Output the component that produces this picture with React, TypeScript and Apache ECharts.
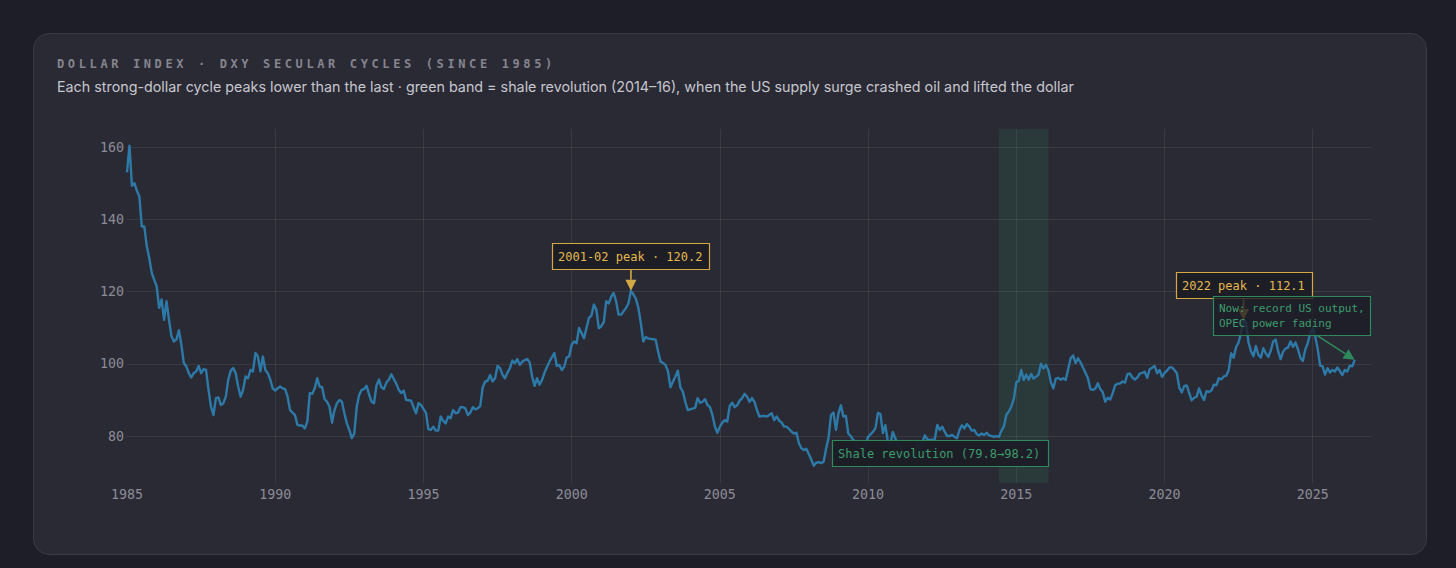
import React, { useEffect, useRef } from "react";
import * as echarts from "echarts";

const TITLE = "DOLLAR INDEX · DXY SECULAR CYCLES (SINCE 1985)";
const SUBTITLE =
  "Each strong-dollar cycle peaks lower than the last · green band = shale revolution (2014–16), when the US supply surge crashed oil and lifted the dollar";

const START_YEAR = 1985;
const xTicks = [1985, 1990, 1995, 2000, 2005, 2010, 2015, 2020, 2025];
const yTicks = [80, 100, 120, 140, 160];

// Monthly DXY readings, one array per year (Jan..Dec)
const dxy1985 = [153.0, 160.4, 149.3, 150.0, 147.9, 146.3, 138.0, 138.0, 132.6, 129.3, 125.2, 123.3];
const dxy1986 = [121.5, 115.5, 117.8, 112.2, 117.3, 112.2, 107.6, 106.2, 106.7, 109.3, 105.3, 100.2];
const dxy1987 = [99.3, 97.4, 96.2, 97.4, 97.9, 99.4, 97.4, 98.5, 98.3, 92.8, 88.1, 85.8];
const dxy1988 = [90.5, 90.7, 88.6, 89.1, 90.9, 95.6, 98.1, 98.8, 97.4, 93.7, 90.9, 92.8];
const dxy1989 = [96.5, 96.0, 98.3, 97.9, 103.0, 102.0, 97.9, 102.0, 98.3, 97.4, 95.6, 93.2];
const dxy1990 = [92.6, 93.2, 93.7, 93.2, 93.0, 90.9, 87.2, 86.5, 85.8, 83.1, 82.9, 82.9];
const dxy1991 = [82.1, 84.0, 91.9, 91.7, 93.2, 96.0, 93.7, 93.5, 90.2, 89.5, 88.1, 83.7];
const dxy1992 = [87.2, 89.1, 90.0, 89.5, 86.3, 83.5, 81.7, 79.4, 80.7, 88.1, 91.4, 92.8];
const dxy1993 = [93.0, 93.9, 91.5, 89.5, 89.1, 94.0, 95.6, 93.5, 93.0, 94.8, 95.6, 97.1];
const dxy1994 = [95.8, 94.5, 92.8, 91.9, 92.6, 90.0, 89.9, 89.8, 88.0, 86.3, 89.1, 88.6];
const dxy1995 = [87.5, 86.5, 81.9, 81.7, 82.6, 81.5, 81.5, 85.4, 84.2, 83.5, 85.4, 84.9];
const dxy1996 = [87.2, 86.3, 86.5, 88.0, 88.0, 87.6, 85.8, 86.5, 88.0, 87.4, 87.7, 88.3];
const dxy1997 = [93.5, 95.1, 95.3, 96.9, 95.1, 96.0, 99.4, 98.8, 97.0, 96.0, 97.5, 98.8];
const dxy1998 = [100.9, 100.2, 101.3, 99.7, 100.6, 101.0, 101.3, 100.4, 96.5, 93.9, 96.0, 94.2];
const dxy1999 = [95.5, 97.5, 99.1, 100.6, 101.8, 103.0, 99.4, 99.7, 98.3, 99.2, 101.8, 102.0];
const dxy2000 = [105.3, 106.2, 105.7, 109.9, 108.5, 107.1, 109.9, 112.7, 113.3, 116.4, 115.0, 109.8];
const dxy2001 = [110.4, 111.5, 117.3, 116.7, 118.5, 119.6, 117.3, 113.6, 113.6, 114.5, 115.5, 116.7];
const dxy2002 = [120.2, 119.2, 118.0, 115.5, 111.3, 106.2, 107.4, 107.0, 106.9, 106.8, 106.7, 103.4];
const dxy2003 = [100.6, 100.2, 99.7, 97.9, 93.5, 95.0, 96.5, 98.1, 93.5, 92.3, 89.5, 87.2];
const dxy2004 = [87.4, 87.6, 87.8, 90.5, 89.2, 89.5, 90.2, 88.6, 88.0, 85.8, 82.6, 80.9];
const dxy2005 = [82.6, 83.7, 84.4, 84.0, 88.3, 89.2, 88.0, 88.5, 89.8, 90.5, 91.7, 90.9];
const dxy2006 = [89.5, 90.5, 89.5, 87.2, 85.4, 85.5, 85.6, 85.4, 85.8, 86.3, 84.4, 85.4];
const dxy2007 = [84.3, 83.7, 82.6, 82.6, 82.0, 81.2, 80.7, 80.9, 78.0, 76.6, 76.1, 76.5];
const dxy2008 = [75.0, 73.5, 71.8, 72.6, 72.8, 72.5, 72.9, 76.5, 79.5, 85.8, 86.5, 81.7];
const dxy2009 = [86.2, 88.5, 85.4, 85.6, 80.7, 80.0, 78.9, 78.4, 76.7, 76.4, 75.0, 77.5];
const dxy2010 = [79.7, 80.5, 81.2, 82.2, 86.4, 86.1, 80.8, 83.0, 78.5, 77.5, 81.1, 79.4];
const dxy2011 = [77.7, 76.9, 75.9, 73.2, 74.6, 74.3, 74.1, 74.2, 78.5, 76.4, 78.4, 80.2];
const dxy2012 = [79.1, 78.9, 79.0, 79.0, 83.1, 81.7, 82.6, 81.2, 80.0, 80.0, 80.3, 79.8];
const dxy2013 = [79.4, 81.7, 83.0, 82.1, 83.3, 82.6, 81.5, 81.7, 80.5, 80.2, 80.7, 80.3];
const dxy2014 = [80.9, 80.2, 80.0, 79.8, 80.0, 79.8, 81.5, 82.7, 85.9, 86.8, 88.2, 90.3];
const dxy2015 = [94.8, 95.3, 98.3, 95.5, 97.0, 95.6, 97.2, 95.9, 96.4, 97.0, 100.0, 98.7];
const dxy2016 = [99.7, 98.2, 94.8, 93.2, 95.9, 96.1, 95.6, 96.0, 95.5, 98.5, 101.5, 102.3];
const dxy2017 = [100.2, 101.5, 100.4, 99.0, 97.5, 96.0, 93.0, 92.8, 93.1, 94.6, 93.0, 92.1];
const dxy2018 = [89.5, 90.6, 90.1, 91.8, 94.0, 94.5, 94.5, 95.1, 94.8, 97.1, 97.3, 96.2];
const dxy2019 = [95.6, 96.2, 97.3, 97.5, 97.8, 96.1, 98.5, 98.9, 99.4, 97.4, 98.3, 96.4];
const dxy2020 = [97.4, 98.1, 99.0, 99.0, 98.3, 97.4, 93.4, 92.1, 93.9, 94.0, 91.9, 89.9];
const dxy2021 = [90.6, 90.9, 93.2, 91.3, 90.0, 92.4, 92.2, 92.6, 94.2, 94.1, 96.0, 95.7];
const dxy2022 = [96.5, 96.7, 98.3, 102.9, 101.7, 104.7, 105.9, 108.7, 112.1, 111.5, 105.9, 103.5];
const dxy2023 = [102.1, 104.9, 102.5, 101.7, 104.3, 102.9, 101.9, 103.6, 106.2, 106.7, 103.5, 101.3];
const dxy2024 = [103.3, 104.2, 104.5, 106.2, 104.7, 105.9, 104.1, 101.7, 100.8, 104.0, 105.7, 108.5];
const dxy2025 = [109.8, 107.6, 104.2, 99.5, 99.3, 97.0, 98.8, 97.6, 98.3, 97.9, 99.0, 98.0];
const dxy2026 = [96.9, 98.3, 97.9, 99.5, 99.3, 101.1];

const dxyMonthly = [
  dxy1985, dxy1986, dxy1987, dxy1988, dxy1989, dxy1990, dxy1991, dxy1992, dxy1993, dxy1994,
  dxy1995, dxy1996, dxy1997, dxy1998, dxy1999, dxy2000, dxy2001, dxy2002, dxy2003, dxy2004,
  dxy2005, dxy2006, dxy2007, dxy2008, dxy2009, dxy2010, dxy2011, dxy2012, dxy2013, dxy2014,
  dxy2015, dxy2016, dxy2017, dxy2018, dxy2019, dxy2020, dxy2021, dxy2022, dxy2023, dxy2024,
  dxy2025, dxy2026,
].flat();

// Shale revolution band: Jun 2014 .. Feb 2016
const shaleStart = { year: 2014, month: 5 };
const shaleEnd = { year: 2016, month: 1 };
const shaleLabel = "Shale revolution (79.8→98.2)";

const peak2002 = { year: 2002, month: 0, label: "2001-02 peak · 120.2" };
const peak2022 = { year: 2022, month: 8, label: "2022 peak · 112.1" };
const nowLabel = "Now: record US output,\nOPEC power fading";

const toT = (year: number, month: number) => year + month / 12;
const idxOf = (year: number, month: number) => (year - START_YEAR) * 12 + month;

const MONO = "'DejaVu Sans Mono', monospace";
const GOLD = "#d4a843";
const GOLD_TEXT = "#e3b94e";
const GREEN = "#2e8a5c";
const GREEN_TEXT = "#3c9c6c";
const LINE = "#2d7aa8";
const AXIS_TEXT = "#8c8c96";
const GRID = "rgba(255,255,255,0.08)";

export default function App() {
  const ref = useRef<HTMLDivElement>(null);

  useEffect(() => {
    const el = ref.current!;
    const chart = echarts.init(el, null, { renderer: "svg" });
    const data = dxyMonthly.map((v, i) => [START_YEAR + i / 12, v]);

    chart.setOption({
      animation: false,
      backgroundColor: "transparent",
      title: [
        {
          text: TITLE,
          left: 57,
          top: 58,
          padding: 0,
          textStyle: { fontFamily: MONO, fontWeight: "bold", fontSize: 12, color: "#85858f" },
        },
        {
          text: SUBTITLE,
          left: 57,
          top: 79,
          padding: 0,
          textStyle: { fontFamily: "Inter, 'Noto Sans', sans-serif", fontWeight: "normal", fontSize: 14.3, color: "#c6c6ce" },
        },
      ],
      grid: { left: 127, right: 84, top: 129, bottom: 85, containLabel: false },
      xAxis: {
        type: "value",
        min: 1985,
        max: 2027,
        axisLine: { show: false },
        axisTick: { show: false, customValues: xTicks },
        axisLabel: {
          customValues: xTicks,
          color: AXIS_TEXT,
          fontFamily: MONO,
          fontSize: 13.3,
          margin: 5,
          formatter: (v: number) => String(v),
        },
        splitLine: { show: true, showMinLine: false, lineStyle: { color: GRID, width: 1 } },
      },
      yAxis: {
        type: "value",
        min: 67,
        max: 165,
        axisLine: { show: false },
        axisTick: { show: false, customValues: yTicks },
        axisLabel: {
          customValues: yTicks,
          color: AXIS_TEXT,
          fontFamily: MONO,
          fontSize: 13.3,
          margin: 3,
          formatter: (v: number) => String(v),
        },
        splitLine: { show: true, lineStyle: { color: GRID, width: 1 } },
      },
      series: [
        {
          type: "line",
          data,
          showSymbol: false,
          symbol: "none",
          z: 3,
          lineStyle: { color: LINE, width: 2.4, join: "round" },
          markArea: {
            silent: true,
            itemStyle: { color: "rgba(46,139,87,0.17)" },
            data: [[{ xAxis: toT(shaleStart.year, shaleStart.month) }, { xAxis: toT(shaleEnd.year, shaleEnd.month) }]],
          },
        },
      ],
    });

    // Annotations anchored to data points
    const px = (t: number, v: number) => chart.convertToPixel({ seriesIndex: 0 }, [t, v]) as number[];
    const i1 = idxOf(peak2002.year, peak2002.month);
    const i2 = idxOf(peak2022.year, peak2022.month);
    const iN = dxyMonthly.length - 1;
    const p1 = px(toT(peak2002.year, peak2002.month), dxyMonthly[i1]);
    const p2 = px(toT(peak2022.year, peak2022.month), dxyMonthly[i2]);
    const pN = px(START_YEAR + iN / 12, dxyMonthly[iN]);
    const bandEnd = px(toT(shaleEnd.year, shaleEnd.month), 67);
    const plotBottom = bandEnd[1];

    const g: any[] = [];
    const addBox = (
      x: number, y: number, w: number, h: number, stroke: string, fill: string,
      text: string, color: string, fontSize: number, z: number,
    ) => {
      g.push({
        type: "rect",
        z,
        silent: true,
        shape: { x: Math.round(x) + 0.5, y: Math.round(y) + 0.5, width: w, height: h },
        style: { fill, stroke, lineWidth: 1.2 },
      });
      g.push({
        type: "text",
        z: z + 1,
        silent: true,
        x: Math.round(x) + 6,
        y: Math.round(y) + h / 2 + 0.5,
        style: {
          text,
          fill: color,
          font: `${fontSize}px ${MONO}`,
          verticalAlign: "middle",
          align: "left",
          lineHeight: 15,
        },
      });
    };
    const addArrow = (x1: number, y1: number, x2: number, y2: number, color: string, z: number) => {
      const ang = Math.atan2(y2 - y1, x2 - x1);
      const L = 11;
      const W = 5.5;
      const bx = x2 - L * Math.cos(ang);
      const by = y2 - L * Math.sin(ang);
      const nx = -Math.sin(ang);
      const ny = Math.cos(ang);
      g.push({
        type: "line",
        z,
        silent: true,
        shape: { x1, y1, x2: bx, y2: by },
        style: { stroke: color, lineWidth: 1.6 },
      });
      g.push({
        type: "polygon",
        z,
        silent: true,
        shape: { points: [[x2, y2], [bx + nx * W, by + ny * W], [bx - nx * W, by - ny * W]] },
        style: { fill: color },
      });
    };

    // 2001-02 peak
    const w1 = 157;
    const b1x = p1[0] - w1 / 2;
    const b1y = p1[1] - 48;
    addArrow(p1[0], b1y + 26, p1[0], p1[1], GOLD, 20);
    addBox(b1x, b1y, w1, 26, GOLD, "rgba(28,28,38,0.95)", peak2002.label, GOLD_TEXT, 12, 21);

    // 2022 peak
    const w2 = 136;
    const b2x = p2[0] - w2 / 2;
    const b2y = p2[1] - 48;
    addArrow(p2[0], b2y + 26, p2[0], p2[1], GOLD, 20);
    addBox(b2x, b2y, w2, 26, GOLD, "rgba(28,28,38,0.95)", peak2022.label, GOLD_TEXT, 12, 21);

    // Now box + arrow
    const bnx = pN[0] - 142;
    const bny = pN[1] - 64;
    addBox(bnx, bny, 157, 39, GREEN, "rgba(28,28,38,0.78)", nowLabel, GREEN_TEXT, 11, 30);
    addArrow(pN[0] - 37, pN[1] - 24, pN[0], pN[1], GREEN, 32);

    // Shale box
    const ws = 216;
    addBox(bandEnd[0] - ws, plotBottom - 43, ws, 26, GREEN, "rgba(28,28,38,0.95)", shaleLabel, GREEN_TEXT, 12, 25);

    chart.setOption({ graphic: { elements: g } });

    const spaceTitle = () => {
      el.querySelectorAll("text").forEach((t) => {
        if (t.textContent === TITLE) t.setAttribute("letter-spacing", "3.62");
      });
    };
    spaceTitle();
    chart.on("finished", spaceTitle);

    return () => {
      chart.dispose();
    };
  }, []);

  return (
    <div
      style={{
        position: "fixed",
        left: 0,
        top: 0,
        width: 1456,
        height: 568,
        background: "#1e1e29",
        overflow: "hidden",
      }}
    >
      <div
        style={{
          position: "absolute",
          left: 33,
          top: 33,
          width: 1392,
          height: 520,
          borderRadius: 16,
          background: "#2a2a34",
          border: "1px solid #3a3a46",
        }}
      />
      <div ref={ref} style={{ position: "absolute", left: 0, top: 0, width: 1456, height: 568 }} />
    </div>
  );
}
